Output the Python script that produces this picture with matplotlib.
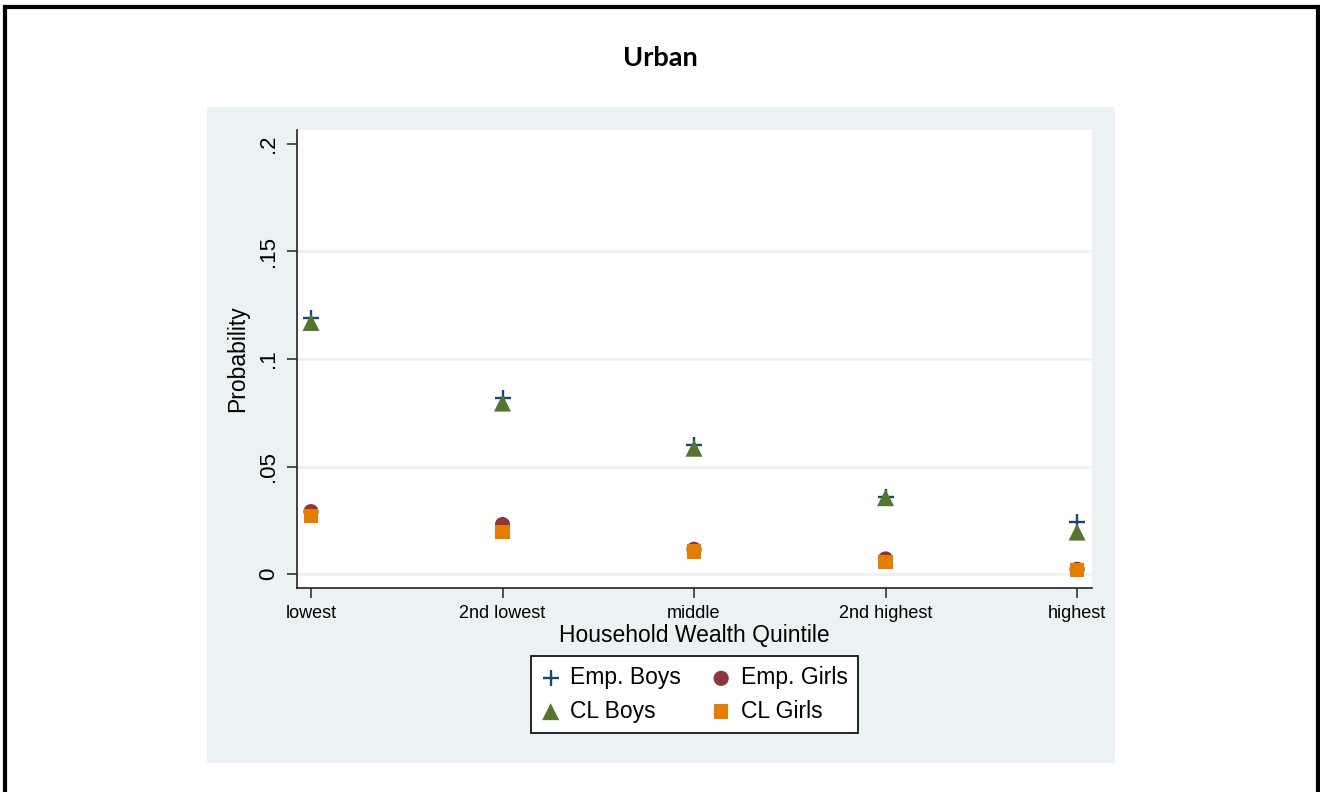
import matplotlib
matplotlib.use("Agg")
import matplotlib.pyplot as plt
from matplotlib.patches import Rectangle
from matplotlib.lines import Line2D

categories = ["lowest", "2nd lowest", "middle", "2nd highest", "highest"]
emp_boys = [0.119, 0.082, 0.060, 0.036, 0.024]
emp_girls = [0.029, 0.023, 0.0115, 0.007, 0.0022]
cl_boys = [0.117, 0.0795, 0.0585, 0.0355, 0.0195]
cl_girls = [0.027, 0.0195, 0.0105, 0.0055, 0.0018]
yticks = [0, 0.05, 0.1, 0.15, 0.2]
yticklabels = ["0", ".05", ".1", ".15", ".2"]

plt.rcParams['font.family'] = ['Liberation Sans', 'DejaVu Sans']

W, H = 1320, 792
fig = plt.figure(figsize=(13.2, 7.92), dpi=100)
fig.patch.set_facecolor("white")

bg = "#eaf2f3"
# inner light background panel
fig.patches.append(Rectangle((207 / W, 1 - 763 / H), 908 / W, 656 / H,
                             transform=fig.transFigure, facecolor=bg,
                             edgecolor="none", zorder=-5))
# outer frame (left, top, right)
for xs, ys in [([4.5 / W, 4.5 / W], [0, 1 - 6.5 / H]),
               ([4.5 / W, 1318 / W], [1 - 6.5 / H, 1 - 6.5 / H]),
               ([1318 / W, 1318 / W], [0, 1 - 6.5 / H])]:
    fig.lines.append(Line2D(xs, ys, transform=fig.transFigure, color="black",
                            lw=3, solid_capstyle="projecting", zorder=-4))

ax = fig.add_axes([297 / W, 1 - 588 / H, (1092 - 297) / W, (588 - 130) / H])
ax.set_zorder(1)
ax.set_facecolor("white")
x = list(range(1, len(categories) + 1))

for yv in yticks[:-1]:
    ax.axhline(yv, color=bg, lw=2, zorder=1)

h_eb = ax.scatter(x, emp_boys, marker="+", s=120, color="#1a476f", linewidths=1.7,
                  zorder=3, label="Emp. Boys")
h_eg = ax.scatter(x, emp_girls, marker="o", s=120, color="#90353b", edgecolors="none",
                  zorder=3, label="Emp. Girls")
h_cb = ax.scatter(x, cl_boys, marker="^", s=150, color="#55752f", edgecolors="none",
                  zorder=4, label="CL Boys")
h_cg = ax.scatter(x, cl_girls, marker="s", s=110, color="#e37e00", edgecolors="none",
                  zorder=4, label="CL Girls")

ax.set_xlim(0.927, 5.078)
ax.set_ylim(-0.0065, 0.2065)
ax.set_xticks(x)
ax.set_xticklabels(categories, fontsize=13)
ax.set_yticks(yticks)
ax.set_yticklabels(yticklabels, fontsize=16, rotation=90, va="center")
ax.tick_params(axis="y", length=7, width=1.2, pad=6, color="#333333")
ax.tick_params(axis="x", length=7, width=1.2, pad=5, color="#333333")

for s in ["top", "right"]:
    ax.spines[s].set_visible(False)
for s in ["left", "bottom"]:
    ax.spines[s].set_color("#222222")
    ax.spines[s].set_linewidth(1.2)

ax.set_xlabel("Household Wealth Quintile", fontsize=16.5, labelpad=2)
ax.set_ylabel("Probability", fontsize=16.5, labelpad=6)

fig.text(660 / W, 1 - 58 / H, "Urban", ha="center", va="center",
         fontsize=19.5, fontweight="bold", family=["Lato", "DejaVu Sans"])

handles = [h_eb, h_cb, h_eg, h_cg]
labels = [h.get_label() for h in handles]
leg = fig.legend(handles, labels, ncol=2, loc="center",
                 bbox_to_anchor=(694.5 / W, 1 - 694.5 / H),
                 fontsize=16.5, frameon=True, fancybox=False,
                 edgecolor="black", facecolor="white", framealpha=1,
                 handletextpad=0.45, columnspacing=1.35, labelspacing=0.45,
                 borderpad=0.45, handlelength=0.8, scatterpoints=1)
leg.get_frame().set_linewidth(1.2)

fig.savefig("out.png", dpi=100, facecolor="white")
